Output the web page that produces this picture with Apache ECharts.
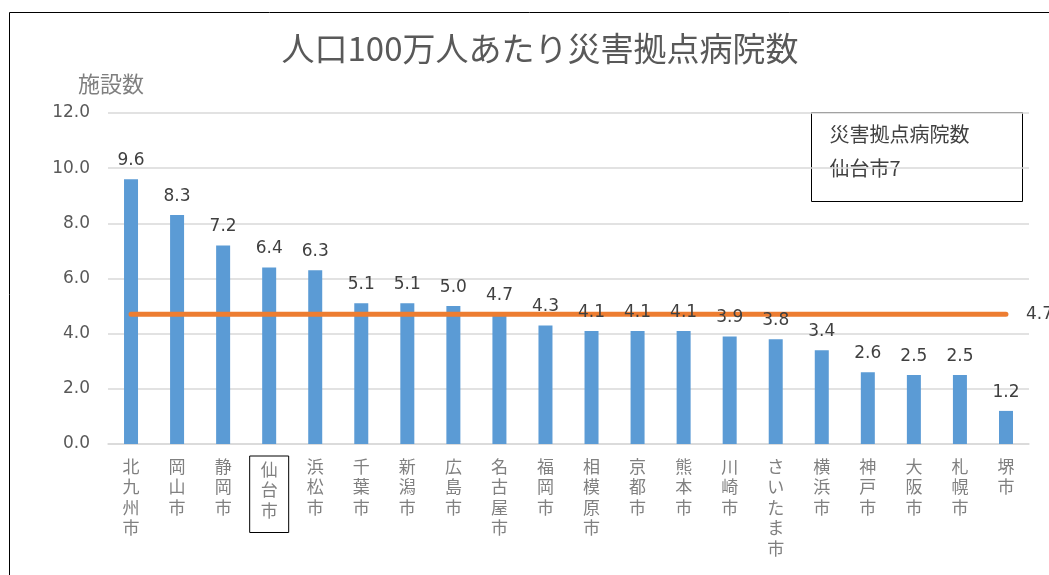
<!DOCTYPE html>
<html><head><meta charset="utf-8">
<script src="https://cdn.jsdelivr.net/npm/echarts@6/dist/echarts.min.js"></script>
<style>html,body{margin:0;padding:0;background:#fff}#c{width:1049px;height:575px}</style>
</head><body><div id="c"></div>
<script>
var categories = ['北九州市','岡山市','静岡市','仙台市','浜松市','千葉市','新潟市','広島市','名古屋市','福岡市','相模原市','京都市','熊本市','川崎市','さいたま市','横浜市','神戸市','大阪市','札幌市','堺市'];
var values = [9.6,8.3,7.2,6.4,6.3,5.1,5.1,5.0,4.7,4.3,4.1,4.1,4.1,3.9,3.8,3.4,2.6,2.5,2.5,1.2];
var averageLine = [4.7,4.7,4.7,4.7,4.7,4.7,4.7,4.7,4.7,4.7,4.7,4.7,4.7,4.7,4.7,4.7,4.7,4.7,4.7,4.7];
var yTicks = [0,2,4,6,8,10,12];
var highlight = '仙台市';
var noteLines = ['災害拠点病院数','仙台市7'];

var FONT = '"Noto Sans CJK JP", "Noto Sans", sans-serif';
var NUMFONT = '"DejaVu Sans", "Noto Sans", sans-serif';
var chart = echarts.init(document.getElementById('c'));
function fmt1(p) { return p.value.toFixed(1); }
chart.setOption({
  animation: false,
  textStyle: {fontFamily: FONT},
  title: {
    text: '人口100万人あたり災害拠点病院数',
    left: 535, top: 27, textAlign: 'center',
    textStyle: {fontSize: 33, fontWeight: 'normal', color: '#595959', fontFamily: FONT}
  },
  grid: {left: 108, right: 20, top: 113, bottom: 131, containLabel: false},
  xAxis: {
    type: 'category',
    data: categories.map(function (c) {
      if (c === highlight) {
        return {value: c, textStyle: {borderColor: '#000', borderWidth: 1, padding: [3, 11, 12, 11]}};
      }
      return c;
    }),
    axisLine: {lineStyle: {color: '#d9d9d9', width: 1.5}},
    axisTick: {show: false},
    axisLabel: {
      interval: 0, margin: 12, fontSize: 17, lineHeight: 20.5, color: '#808080',
      verticalAlign: 'top', fontFamily: FONT,
      formatter: function (v) { return v.split('').join('\n'); }
    }
  },
  yAxis: {
    type: 'value', min: yTicks[0], max: yTicks[yTicks.length - 1], interval: 2,
    name: '施設数', nameLocation: 'end', nameGap: 18,
    nameTextStyle: {fontSize: 22, color: '#7f7f7f', align: 'center', padding: [0, 0, 0, 6], fontFamily: FONT},
    axisLine: {show: false}, axisTick: {show: false},
    splitLine: {lineStyle: {color: '#d9d9d9', width: 1.5}},
    axisLabel: {fontSize: 17, color: '#595959', margin: 18, fontFamily: NUMFONT,
      formatter: function (v) { return v.toFixed(1); }}
  },
  series: [
    {
      type: 'bar', data: values, barWidth: 14, z: 2,
      itemStyle: {color: '#5B9BD5'}
    },
    {
      type: 'line', z: 3,
      data: averageLine,
      symbol: 'none', showSymbol: false,
      lineStyle: {color: '#ED7D31', width: 5, cap: 'round'},
      endLabel: {show: true, distance: 20, fontSize: 17, color: '#404040', fontFamily: NUMFONT, formatter: fmt1}
    },
    {
      type: 'bar', data: values, barWidth: 14, barGap: '-100%', z: 4, silent: true,
      itemStyle: {color: 'rgba(0,0,0,0)'},
      label: {show: true, position: 'top', distance: 10, fontSize: 17, color: '#404040', fontFamily: NUMFONT, formatter: fmt1}
    }
  ],
  graphic: [
    {type: 'rect', left: 7, top: 10, shape: {width: 1100, height: 700},
      style: {fill: 'none', stroke: '#000', lineWidth: 1}, silent: true},
    {type: 'group', left: 811, top: 112, children: [
      {type: 'rect', shape: {x: 0, y: 0, width: 211, height: 89},
        style: {fill: '#fff', stroke: '#000', lineWidth: 1}},
      {type: 'text', x: 18, y: 12, style: {text: noteLines[0], fontSize: 20, fill: '#404040', fontFamily: FONT}},
      {type: 'text', x: 18, y: 46, style: {text: noteLines[1], fontSize: 20, fill: '#404040', fontFamily: FONT}}
    ]}
  ]
});
</script></body></html>
